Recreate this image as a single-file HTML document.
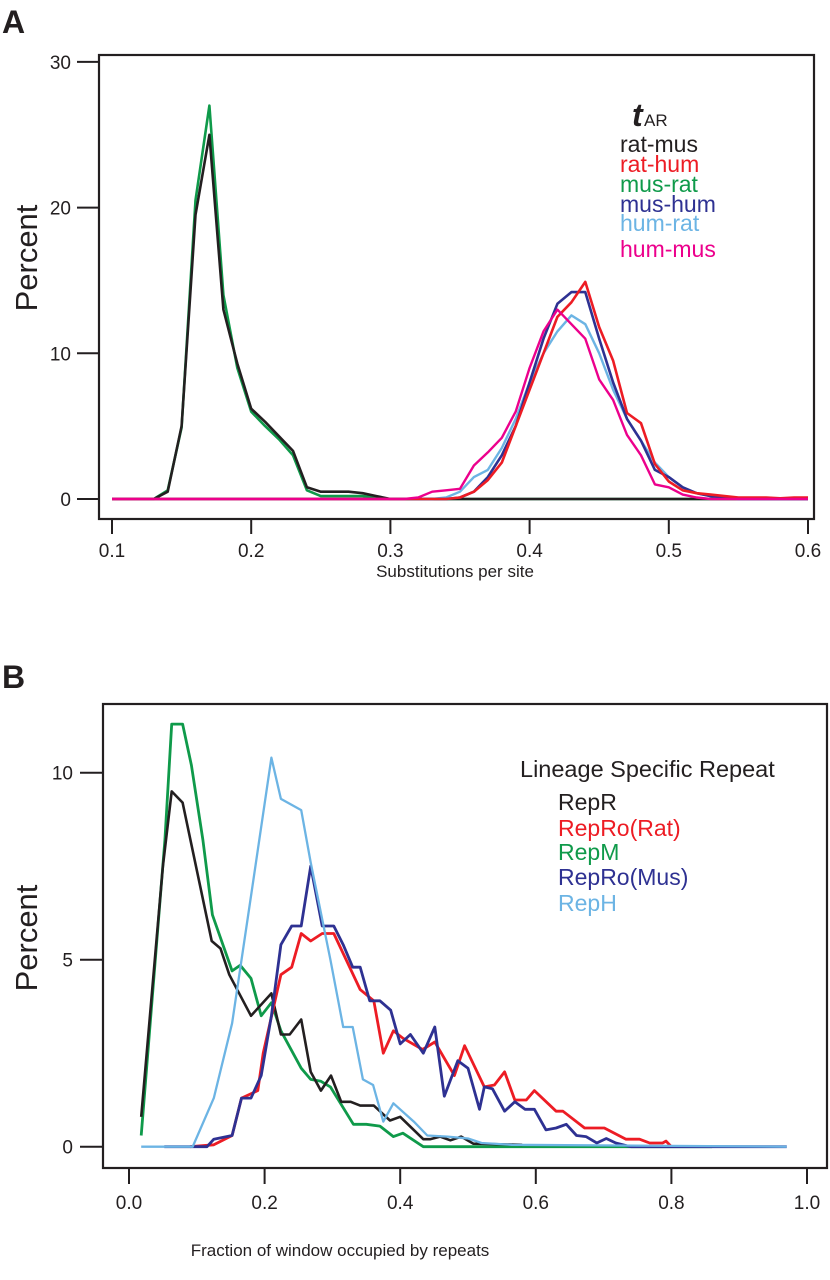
<!DOCTYPE html>
<html><head><meta charset="utf-8">
<style>
html,body{margin:0;padding:0;background:#fff;}
svg{display:block;font-family:"Liberation Sans",sans-serif;}
</style></head>
<body>
<svg id="fig" width="830" height="1280" viewBox="0 0 830 1280" xmlns="http://www.w3.org/2000/svg">
<text x="2" y="33" font-size="32" font-weight="bold" fill="#231f20">A</text>
<text x="2" y="688" font-size="32" font-weight="bold" fill="#231f20">B</text>
<g id="panelA"></g>
<g id="panelB"></g>
<text transform="translate(37,258) rotate(-90)" text-anchor="middle" font-size="31" fill="#231f20">Percent</text>
<text x="455" y="577" text-anchor="middle" font-size="17" fill="#231f20">Substitutions per site</text>
<text transform="translate(37,938) rotate(-90)" text-anchor="middle" font-size="31" fill="#231f20">Percent</text>
<text x="340" y="1256" text-anchor="middle" font-size="17" fill="#231f20">Fraction of window occupied by repeats</text>
<g>
<text x="632" y="126" font-size="32" font-style="italic" font-weight="bold" fill="#231f20">t</text>
<text x="644" y="126" font-size="17" fill="#231f20">AR</text>
<text x="620" y="152" font-size="23" fill="#231f20">rat-mus</text>
<text x="620" y="172" font-size="23" fill="#ed1c24">rat-hum</text>
<text x="620" y="192" font-size="23" fill="#0f9a4a">mus-rat</text>
<text x="620" y="212" font-size="23" fill="#2e3192">mus-hum</text>
<text x="620" y="231" font-size="23" fill="#6cb4e4">hum-rat</text>
<text x="620" y="257" font-size="23" fill="#ec008c">hum-mus</text>
</g>
<g>
<text x="520" y="777" font-size="23.5" fill="#231f20">Lineage Specific Repeat</text>
<text x="558" y="810" font-size="23" fill="#231f20">RepR</text>
<text x="558" y="836" font-size="23" fill="#ed1c24">RepRo(Rat)</text>
<text x="558" y="860" font-size="23" fill="#0f9a4a">RepM</text>
<text x="558" y="885" font-size="23" fill="#2e3192">RepRo(Mus)</text>
<text x="558" y="911" font-size="23" fill="#6cb4e4">RepH</text>
</g>
</svg>
<script>
// ---- Panel A data ----
var xA = [0.10,0.11,0.12,0.13,0.14,0.15,0.16,0.17,0.18,0.19,0.20,0.21,0.22,0.23,0.24,0.25,0.26,0.27,0.28,0.29,0.30,0.31,0.32,0.33,0.34,0.35,0.36,0.37,0.38,0.39,0.40,0.41,0.42,0.43,0.44,0.45,0.46,0.47,0.48,0.49,0.50,0.51,0.52,0.53,0.54,0.55,0.56,0.57,0.58,0.59,0.60];
var ratMus = [0,0,0,0,0.5,5,19.5,25,13,9.3,6.2,5.3,4.3,3.3,0.8,0.5,0.5,0.5,0.4,0.2,0,0,0,0,0,0,0,0,0,0,0,0,0,0,0,0,0,0,0,0,0,0,0,0,0,0,0,0,0,0,0];
var musRat = [0,0,0,0,0.6,4.9,20.5,27,14,9,6,5,4.1,3,0.6,0.2,0.2,0.2,0.2,0.1,0,0,0,0,0,0,0,0,0,0,0,0,0,0,0,0,0,0,0,0,0,0,0,0,0,0,0,0,0,0,0];
var ratHum = [0,0,0,0,0,0,0,0,0,0,0,0,0,0,0,0,0,0,0,0,0,0,0,0,0,0.1,0.5,1.3,2.5,5,7.5,10,12.5,13.5,14.9,11.8,9.5,5.9,5.2,2.4,1.2,0.6,0.4,0.3,0.2,0.1,0.1,0.1,0.05,0.1,0.1];
var musHum = [0,0,0,0,0,0,0,0,0,0,0,0,0,0,0,0,0,0,0,0,0,0,0,0,0,0.1,0.5,1.5,3,5,8,11,13.4,14.2,14.2,11,8,5.5,4,2,1.5,0.8,0.4,0.2,0.1,0,0,0,0,0,0];
var humRat = [0,0,0,0,0,0,0,0,0,0,0,0,0,0,0,0,0,0,0,0,0,0,0,0,0.1,0.5,1.5,2,3.5,5.5,8,10,11.5,12.6,12,10,7.5,5.5,4,2.5,1.5,0.8,0.4,0.2,0.1,0,0,0,0,0,0];
var humMus = [0,0,0,0,0,0,0,0,0,0,0,0,0,0,0,0,0,0,0,0,0,0,0.1,0.5,0.6,0.7,2.3,3.2,4.2,6,9,11.5,13,12,11,8.2,6.8,4.4,3,1,0.8,0.3,0.1,0,0,0,0,0,0,0,0];
var xTicksA = [0.1,0.2,0.3,0.4,0.5,0.6];
var xTickLabelsA = ["0.1","0.2","0.3","0.4","0.5","0.6"];
var yTicksA = [0,10,20,30];
var yTickLabelsA = ["0","10","20","30"];

// ---- Panel B data ----
var repRX = [0.018,0.05,0.063,0.079,0.122,0.135,0.148,0.18,0.21,0.224,0.237,0.254,0.268,0.283,0.298,0.313,0.327,0.341,0.361,0.385,0.4,0.434,0.444,0.459,0.474,0.49,0.508,0.58];
var repRY = [0.8,7.5,9.5,9.2,5.5,5.3,4.6,3.5,4.1,3.0,3.0,3.4,2.0,1.5,1.9,1.2,1.2,1.1,1.1,0.7,0.8,0.2,0.2,0.27,0.17,0.27,0.08,0.05];
var repMX = [0.018,0.053,0.063,0.079,0.092,0.109,0.123,0.152,0.164,0.18,0.195,0.21,0.224,0.254,0.268,0.283,0.297,0.331,0.35,0.37,0.39,0.404,0.434,0.86];
var repMY = [0.3,8.2,11.3,11.3,10.2,8.2,6.2,4.7,4.85,4.5,3.5,3.85,3.1,2.1,1.8,1.75,1.6,0.6,0.6,0.55,0.27,0.36,0,0];
var repHX = [0.018,0.094,0.125,0.152,0.18,0.21,0.224,0.254,0.268,0.297,0.316,0.33,0.345,0.36,0.375,0.39,0.42,0.44,0.47,0.5,0.52,0.565,0.97];
var repHY = [0,0,1.3,3.3,6.7,10.4,9.3,9.0,7.6,5,3.2,3.2,1.8,1.65,0.67,1.16,0.67,0.3,0.27,0.22,0.1,0.05,0];
var repRoRatX = [0.09,0.125,0.152,0.166,0.19,0.198,0.224,0.24,0.254,0.268,0.285,0.302,0.341,0.361,0.375,0.39,0.404,0.433,0.451,0.48,0.495,0.524,0.539,0.554,0.569,0.586,0.598,0.63,0.64,0.672,0.701,0.733,0.753,0.768,0.787,0.792,0.80];
var repRoRatY = [0,0.05,0.3,1.3,1.5,2.5,4.6,4.8,5.7,5.5,5.7,5.7,4.2,3.9,2.5,3.1,2.9,2.6,2.8,1.9,2.7,1.6,1.65,2.0,1.25,1.25,1.5,0.95,0.95,0.5,0.5,0.2,0.2,0.1,0.1,0.15,0];
var repRoMusX = [0.052,0.115,0.125,0.152,0.166,0.18,0.195,0.21,0.224,0.24,0.254,0.268,0.285,0.302,0.316,0.33,0.341,0.355,0.37,0.386,0.4,0.415,0.434,0.451,0.465,0.485,0.5,0.517,0.524,0.536,0.554,0.569,0.584,0.598,0.615,0.63,0.645,0.66,0.674,0.69,0.704,0.718,0.74,0.97];
var repRoMusY = [0,0,0.2,0.3,1.3,1.3,1.9,3.5,5.4,5.9,5.9,7.5,5.9,5.9,5.4,4.8,4.8,3.9,3.9,3.65,2.75,3.0,2.5,3.2,1.35,2.3,2.1,1.0,1.6,1.55,0.95,1.2,1.0,1.0,0.45,0.5,0.6,0.3,0.27,0.1,0.22,0.1,0,0];
var xTicksB = [0,0.2,0.4,0.6,0.8,1.0];
var xTickLabelsB = ["0.0","0.2","0.4","0.6","0.8","1.0"];
var yTicksB = [0,5,10];
var yTickLabelsB = ["0","5","10"];

var NS = "http://www.w3.org/2000/svg";
function mk(tag, attrs, parent){
  var e = document.createElementNS(NS, tag);
  for (var k in attrs) e.setAttribute(k, attrs[k]);
  parent.appendChild(e);
  return e;
}
function xScaleA(v){ return 112 + (v - 0.1) * 1392; }
function yScaleA(v){ return 499 - v * 14.57; }
function xScaleB(v){ return 129 + v * 678; }
function yScaleB(v){ return 1146.7 - v * 37.4; }

function drawAxes(g, frame, xt, xl, yt, yl, xs, ys, xTickY0, xTickY1, xLabY, yTickX0, yLabX, pfx){
  var f = mk('rect', {x:frame[0], y:frame[1], width:frame[2]-frame[0], height:frame[3]-frame[1], fill:'none', stroke:'#231f20', 'stroke-width':2.2}, g);
  
  
  for (var i = 0; i < xt.length; i++){
    var x = xs(xt[i]);
    var t = mk('line', {x1:x, x2:x, y1:xTickY0, y2:xTickY1, stroke:'#231f20', 'stroke-width':2}, g);
    
    
    var l = mk('text', {x:x, y:xLabY, 'text-anchor':'middle', 'font-size':19, fill:'#231f20'}, g);
    l.textContent = xl[i];
    
    
  }
  for (var j = 0; j < yt.length; j++){
    var y = ys(yt[j]);
    var t2 = mk('line', {x1:yTickX0, x2:frame[0], y1:y, y2:y, stroke:'#231f20', 'stroke-width':2}, g);
    
    
    var l2 = mk('text', {x:yLabX, y:y + 7, 'text-anchor':'end', 'font-size':19, fill:'#231f20'}, g);
    l2.textContent = yl[j];
    
    
  }
}
function drawLine(g, xv, yv, xs, ys, color, w, name){
  var d = '';
  for (var i = 0; i < xv.length; i++){
    d += (i ? 'L' : 'M') + xs(xv[i]).toFixed(1) + ',' + ys(yv[i]).toFixed(1);
  }
  var p = mk('path', {d:d, fill:'none', stroke:color, 'stroke-width':w, 'stroke-linejoin':'round'}, g);
  
  
}

var gA = document.getElementById('panelA');
drawAxes(gA, [99,55,814,519], xTicksA, xTickLabelsA, yTicksA, yTickLabelsA, xScaleA, yScaleA, 519, 534, 557, 77, 71, 'panel-a');
drawLine(gA, xA, musRat, xScaleA, yScaleA, '#0f9a4a', 2.6, 'series-mus-rat');
drawLine(gA, xA, ratMus, xScaleA, yScaleA, '#231f20', 2.6, 'series-rat-mus');
drawLine(gA, xA, humRat, xScaleA, yScaleA, '#6cb4e4', 2.4, 'series-hum-rat');
drawLine(gA, xA, musHum, xScaleA, yScaleA, '#2e3192', 2.6, 'series-mus-hum');
drawLine(gA, xA, ratHum, xScaleA, yScaleA, '#ed1c24', 2.6, 'series-rat-hum');
drawLine(gA, xA, humMus, xScaleA, yScaleA, '#ec008c', 2.4, 'series-hum-mus');

var gB = document.getElementById('panelB');
drawAxes(gB, [103,704,827,1168], xTicksB, xTickLabelsB, yTicksB, yTickLabelsB, xScaleB, yScaleB, 1168, 1184, 1209, 80, 73, 'panel-b');
drawLine(gB, repMX, repMY, xScaleB, yScaleB, '#0f9a4a', 2.8, 'series-repm');
drawLine(gB, repRX, repRY, xScaleB, yScaleB, '#231f20', 2.6, 'series-repr');
drawLine(gB, repRoRatX, repRoRatY, xScaleB, yScaleB, '#ed1c24', 2.8, 'series-repro-rat');
drawLine(gB, repRoMusX, repRoMusY, xScaleB, yScaleB, '#2e3192', 2.8, 'series-repro-mus');
drawLine(gB, repHX, repHY, xScaleB, yScaleB, '#6cb4e4', 2.3, 'series-reph');
</script>
</body></html>
